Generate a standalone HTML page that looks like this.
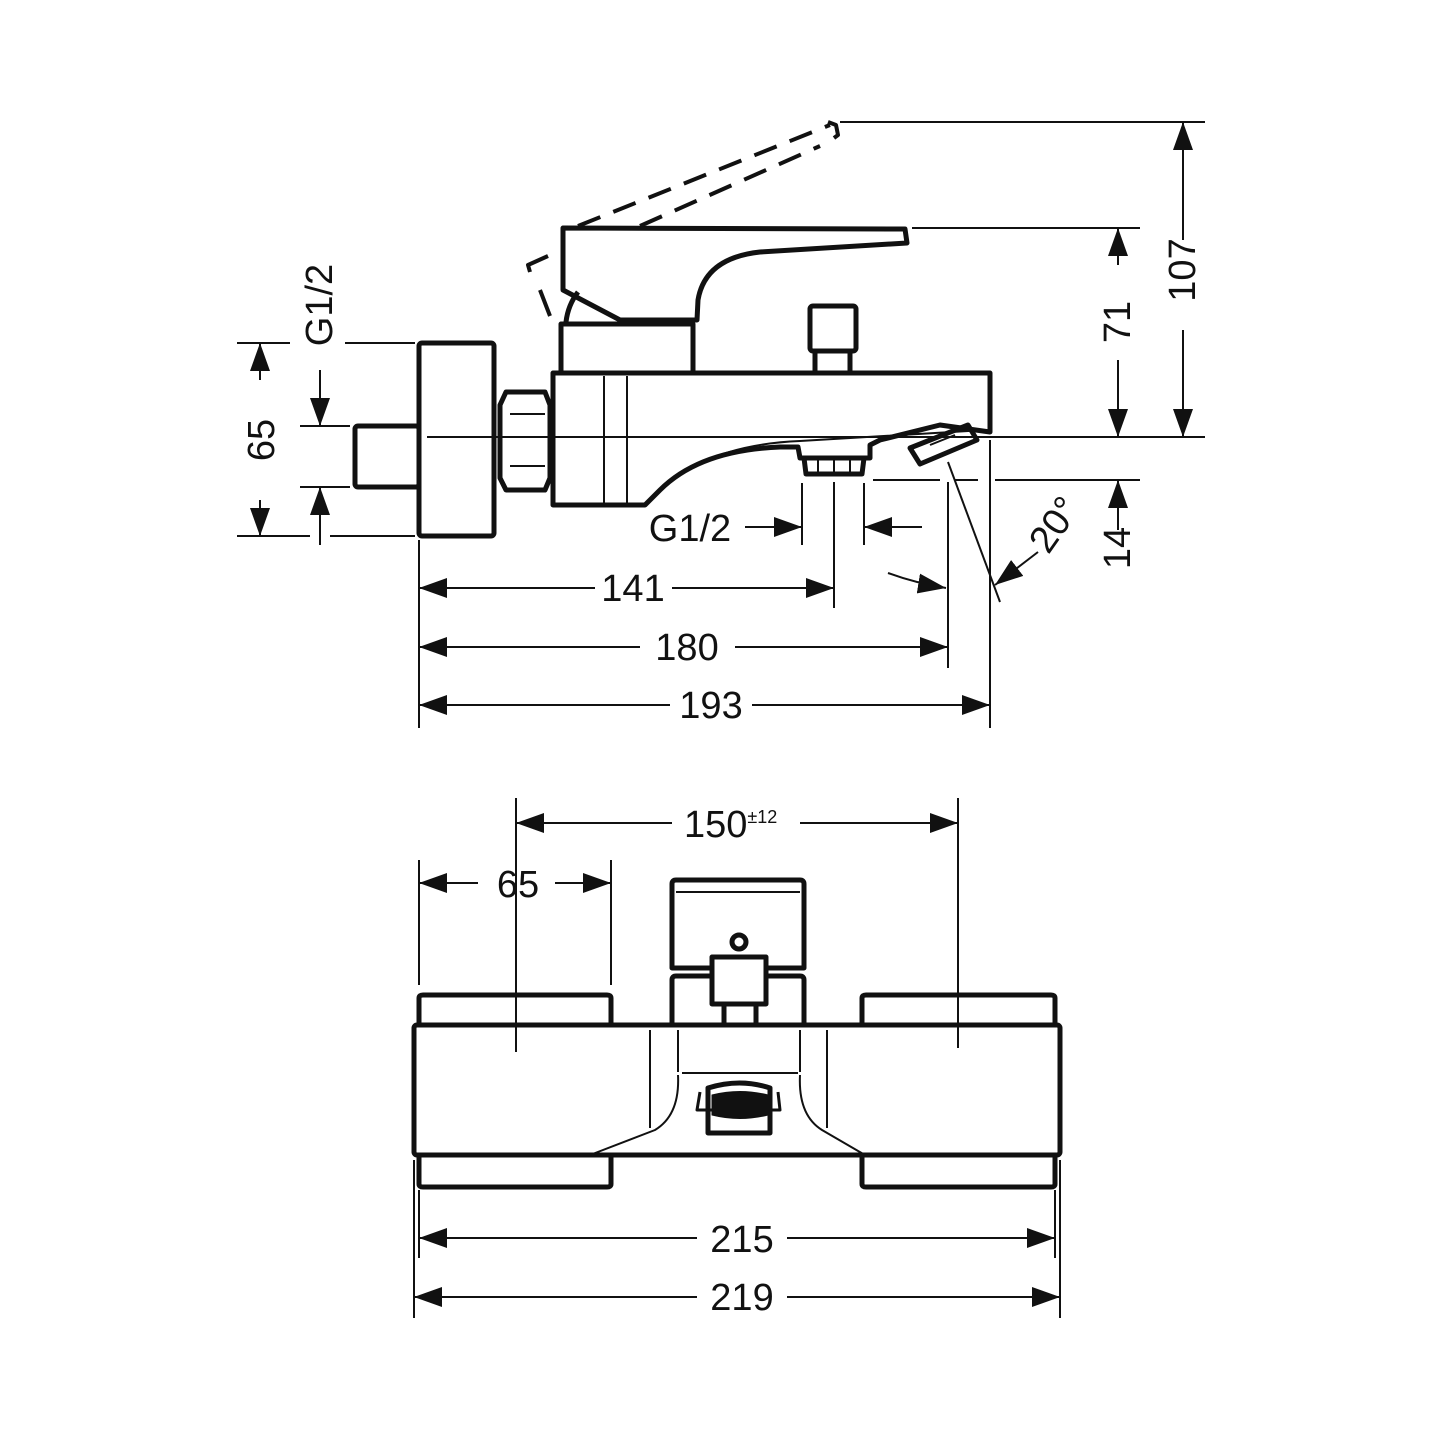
<!DOCTYPE html>
<html><head><meta charset="utf-8"><style>
html,body{margin:0;padding:0;background:#fff}
svg{display:block}
text{font-family:"Liberation Sans",sans-serif;font-size:38px;fill:#111}
</style></head><body>
<svg width="1441" height="1441" viewBox="0 0 1441 1441" xmlns="http://www.w3.org/2000/svg">
<defs>
<marker id="a" viewBox="0 0 28 20" refX="28" refY="10" markerWidth="28" markerHeight="20" markerUnits="userSpaceOnUse" orient="auto"><path d="M0,0 L28,10 L0,20 Z" fill="#111"/></marker>
</defs>
<g fill="none" stroke="#111" stroke-linejoin="round">
<g stroke-width="5">
<rect x="419" y="343" width="75" height="193" rx="3"/>
<rect x="355" y="426" width="64" height="61" rx="3"/>
<path d="M506,392 L545,392 L550,405 L550,478 L545,490 L506,490 L500,478 L500,405 Z"/>
<path d="M553,373 L990,373 L990,432 L940,425 L880,440 L870,445 L870,458 L800,458 L798,447 L780,447 Q700,450 660,490 L645,505 L553,505 Z"/>
<rect x="561" y="324" width="132" height="49"/>
<path d="M563,228 L905,229 L907,243 L760,252 Q705,258 698,300 L697,320 L620,320 L563,290 Z"/>
<path d="M578,292 Q568,305 566,322"/>
<rect x="810" y="306" width="46" height="45" rx="3"/>
<path d="M815,351 L815,373 M850,351 L850,373"/>
<path d="M804,458 L806,474 L862,474 L864,458"/>
<path d="M910,448 L968,425 L977,440 L920,464 Z"/>
</g>
<g stroke-width="2">
<path d="M604,376 L604,503 M627,376 L627,503"/>
<path d="M510,414 L545,414 M510,466 L545,466"/>
<path d="M650,500 Q700,445 800,441 L985,430"/>
<path d="M818,460 L818,472 M850,460 L850,472 M834,460 L834,472"/>
<path d="M930,445 L955,435"/>
</g>
<g stroke-width="4" stroke-dasharray="24,14">
<path d="M578,226 L830,125"/>
<path d="M640,226 L820,146"/>
</g>
<path d="M828,122 L836,125 L838,135 L834,138" stroke-width="4"/>
<path d="M548,256 L528,265 L530,272" stroke-width="4"/>
<path d="M540,290 L550,316" stroke-width="4"/>
<g stroke-width="2">
<path d="M427,437 L1140,437"/>
<path d="M995,437 L1205,437"/>
<path d="M840,122 L1205,122"/>
<path d="M912,228 L1140,228"/>
<path d="M873,480 L940,480 M955,480 L978,480 M995,480 L1140,480"/>
<path d="M237,343 L290,343 M345,343 L415,343"/>
<path d="M237,536 L310,536 M330,536 L415,536"/>
<path d="M300,426 L350,426 M300,487 L350,487"/>
<path d="M419,540 L419,728 M834,482 L834,608 M948,482 L948,668 M990,440 L990,728"/>
<path d="M802,483 L802,545 M864,483 L864,545"/>
<path d="M948,462 L1000,602"/>
</g>
<g stroke-width="2" marker-end="url(#a)">
<path d="M1183,240 L1183,122"/><path d="M1183,330 L1183,437"/>
<path d="M1118,265 L1118,228"/><path d="M1118,360 L1118,437"/>
<path d="M1118,530 L1118,480"/>
<path d="M260,380 L260,343"/><path d="M260,500 L260,536"/>
<path d="M320,370 L320,426"/><path d="M320,545 L320,487"/>
<path d="M595,588 L419,588"/><path d="M672,588 L834,588"/>
<path d="M640,647 L419,647"/><path d="M735,647 L948,647"/>
<path d="M670,705 L419,705"/><path d="M752,705 L990,705"/>
<path d="M745,527 L802,527"/><path d="M922,527 L864,527"/>
<path d="M1038,552 L995,585"/>
<path d="M888,573 Q915,583 946,588"/>
</g>
<g stroke-width="5">
<rect x="414" y="1025" width="646" height="130" rx="3"/>
<path d="M419,1025 L419,998 Q419,995 423,995 L607,995 Q611,995 611,998 L611,1025"/>
<path d="M862,1025 L862,998 Q862,995 866,995 L1051,995 Q1055,995 1055,998 L1055,1025"/>
<path d="M419,1155 L419,1184 Q419,1187 423,1187 L607,1187 Q611,1187 611,1184 L611,1155"/>
<path d="M862,1155 L862,1184 Q862,1187 866,1187 L1051,1187 Q1055,1187 1055,1184 L1055,1155"/>
<path d="M672,968 L672,884 Q672,880 676,880 L800,880 Q804,880 804,884 L804,968 Z"/>
<path d="M672,1025 L672,980 Q672,976 676,976 L800,976 Q804,976 804,980 L804,1025"/>
<path d="M712,957 L766,957 L766,1004 L712,1004 Z" fill="#fff"/>
<path d="M724,1004 L724,1025 M756,1004 L756,1025"/>
<circle cx="739" cy="942" r="7"/>
<path d="M708,1088 Q740,1078 770,1088 L770,1133 L708,1133 Z"/>
</g>
<path d="M712,1095 Q740,1088 768,1095 L768,1115 Q740,1122 712,1115 Z" fill="#111"/>
<path d="M700,1092 L697,1110 L780,1110 L778,1092" stroke-width="3"/>
<g stroke-width="2">
<path d="M676,892 L800,892"/>
<path d="M650,1030 L650,1128 M827,1030 L827,1128"/>
<path d="M678,1030 L678,1072 M800,1030 L800,1072 M682,1073 L798,1073"/>
<path d="M678,1075 Q680,1115 655,1130 L590,1155"/>
<path d="M800,1075 Q798,1115 822,1130 L865,1155"/>
<path d="M516,798 L516,1052 M958,798 L958,1048"/>
<path d="M419,860 L419,985 M611,860 L611,985"/>
<path d="M414,1160 L414,1318 M1060,1160 L1060,1318 M419,1190 L419,1258 M1055,1190 L1055,1258"/>
</g>
<g stroke-width="2" marker-end="url(#a)">
<path d="M672,823 L516,823"/><path d="M800,823 L958,823"/>
<path d="M478,883 L419,883"/><path d="M555,883 L611,883"/>
<path d="M697,1238 L419,1238"/><path d="M787,1238 L1055,1238"/>
<path d="M697,1297 L414,1297"/><path d="M787,1297 L1060,1297"/>
</g>
</g>
<text x="1183" y="270" text-anchor="middle" transform="rotate(-90 1183 270)" dominant-baseline="central">107</text>
<text x="1118" y="322" text-anchor="middle" transform="rotate(-90 1118 322)" dominant-baseline="central">71</text>
<text x="1118" y="548" text-anchor="middle" transform="rotate(-90 1118 548)" dominant-baseline="central">14</text>
<text x="262" y="440" text-anchor="middle" transform="rotate(-90 262 440)" dominant-baseline="central">65</text>
<text x="320" y="305" text-anchor="middle" transform="rotate(-90 320 305)" dominant-baseline="central">G1/2</text>
<text x="1055" y="525" text-anchor="middle" transform="rotate(-55 1055 525)" dominant-baseline="central">20°</text>
<text x="690" y="541" text-anchor="middle">G1/2</text>
<text x="633" y="601" text-anchor="middle">141</text>
<text x="687" y="660" text-anchor="middle">180</text>
<text x="711" y="718" text-anchor="middle">193</text>
<text x="684" y="837">150<tspan font-size="18" dy="-14">±12</tspan></text>
<text x="518" y="897" text-anchor="middle">65</text>
<text x="742" y="1252" text-anchor="middle">215</text>
<text x="742" y="1310" text-anchor="middle">219</text>
</svg>
</body></html>
